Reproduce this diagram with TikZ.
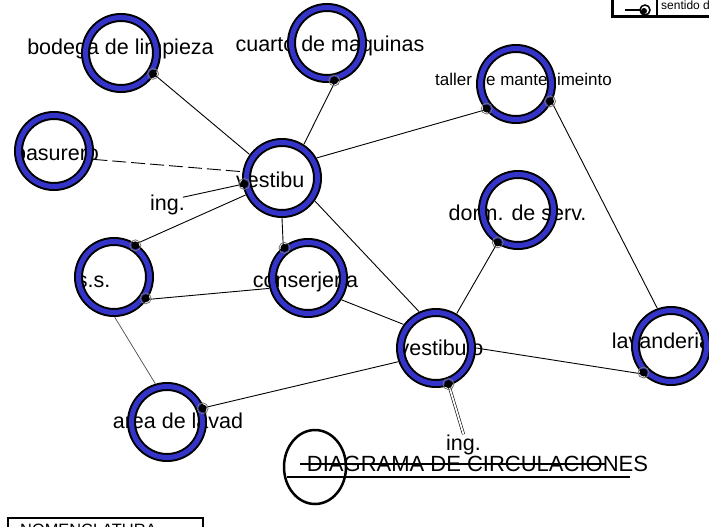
\documentclass[tikz,border=0pt]{standalone}
\usepackage{fontspec}
\setmainfont{Liberation Sans}
\usetikzlibrary{calc}
\definecolor{ringblue}{RGB}{52,52,200}
\begin{document}
\begin{tikzpicture}[x=1pt,y=-1pt,
  place/.style={circle,minimum size=80pt,inner sep=0pt},
  lbl/.style={font=\fontsize{21.5}{24}\selectfont,inner sep=0pt,anchor=base},
  conn/.style={line width=0.9pt},
  dashconn/.style={line width=0.9pt,dash pattern=on 14pt off 5pt},
  thick line/.style={line width=2.5pt},
]
\useasboundingbox[fill=white] (0,0) rectangle (709,527);

% places
\node[place] (bod) at (121,53) {};
\node[place] (cua) at (327,43) {};
\node[place] (tal) at (516,84) {};
\node[place] (bas) at (54,151) {};
\node[place] (vt)  at (282,178) {};
\node[place] (dor) at (518,210) {};
\node[place] (ss)  at (114,277) {};
\node[place] (con) at (308,278) {};
\node[place] (vb)  at (436,348) {};
\node[place] (lav) at (671,346) {};
\node[place] (are) at (167,422) {};

% labels (under the rings)
\node[lbl] at (120.5,55) {bodega de limpieza};
\node[lbl] at (330,52) {cuarto de maquinas};
\node[lbl,font=\fontsize{17}{20}\selectfont] at (523.5,85) {taller de mantenimeinto};
\node[lbl] at (56.5,160) {basurero};
\node[lbl,anchor=base west] at (236,187) {vestibu};
\node[lbl] (ingA) at (167.5,210) {ing.};
\node[lbl] at (517.5,220) {dorm. de serv.};
\node[lbl] at (93.5,287) {s.s.};
\node[lbl] at (305.5,287) {conserjeria};
\node[lbl] at (441,355) {vestibulo};
\node[lbl] at (661.5,348) {lavanderia};
\node[lbl] at (178,428) {area de lavad};
\node[lbl] (ingB) at (463.5,450) {ing.};

% connectors
\draw[conn] (bod.-33) -- (vt.144);
\draw[conn] (cua.-79) -- (vt.57);
\draw[conn] (tal.-140) -- (vt.30);
\draw[conn] (tal.-27) -- (lav.110);
\draw[dashconn] (bas.-12) -- (vt.171);
\draw[conn] (ingA.north east) ++(-2,3) coordinate (ia) (ia) -- (vt.189);
\draw[conn] (ss.56) -- (vt.205);
\draw[conn] (vt.-90) -- (con.128);
\draw[conn] (vt.-35) -- (vb.115);
\draw[conn] (ss.-34) -- (con.195);
\draw[line width=0.7pt,black!70] (ss.-89) -- (are.107);
\draw[conn] (con.-33) -- (vb.144);
\draw[conn] (dor.-122) -- (vb.59);
\draw[conn] (are.21) -- (vb.200);
\draw[conn] (vb.0) -- (lav.-136);
\draw[line width=0.6pt,double,double distance=1.8pt] (vb.-71) -- (ingB.north);

% rings
\foreach \n in {bod,cua,tal,bas,vt,dor,ss,con,vb,lav,are}{
  \draw[black,line width=9pt] (\n.center) circle[radius=35.5pt];
  \draw[ringblue,line width=5pt] (\n.center) circle[radius=35.5pt];
}

% end dots
\foreach \n/\a in {bod/-33,cua/-79,tal/-140,tal/-27,vt/189,con/128,ss/56,ss/-34,are/21,vb/-71,lav/-136,dor/-122}{
  \coordinate (d) at ($(\n.center)!0.95!(\n.\a)$);
  \fill[black] (d) circle[radius=4pt];
  \draw[black!55,line width=0.8pt] (d) circle[radius=5.5pt];
}

% title
\node[inner sep=0pt,anchor=base,font=\fontsize{22}{24}\selectfont] (title) at (477.5,471) {DIAGRAMA DE CIRCULACIONES};
\draw[thick line] (315,467) ellipse[x radius=31pt,y radius=37pt];
\draw[thick line] (300,464) -- (605,464);
\draw[thick line] (287,477) -- (630,477);

% legend (top right)
\draw[line width=3pt] (612,-5) rectangle (725,17);
\draw[line width=2pt] (657,-5) -- (657,17);
\draw[line width=2.5pt] (625,10) -- (640,10);
\draw[line width=1.5pt] (645,10) circle[radius=5pt];
\fill (644,11) circle[radius=3pt];
\node[inner sep=0pt,anchor=base west,font=\fontsize{12}{14}\selectfont] at (661,10) {sentido d};

% nomenclatura
\draw[line width=2.5pt] (8,518) rectangle (203,545);
\node[inner sep=0pt,anchor=base west,font=\fontsize{16.4}{18}\selectfont] at (20,535) {NOMENCLATURA};
\end{tikzpicture}
\end{document}
